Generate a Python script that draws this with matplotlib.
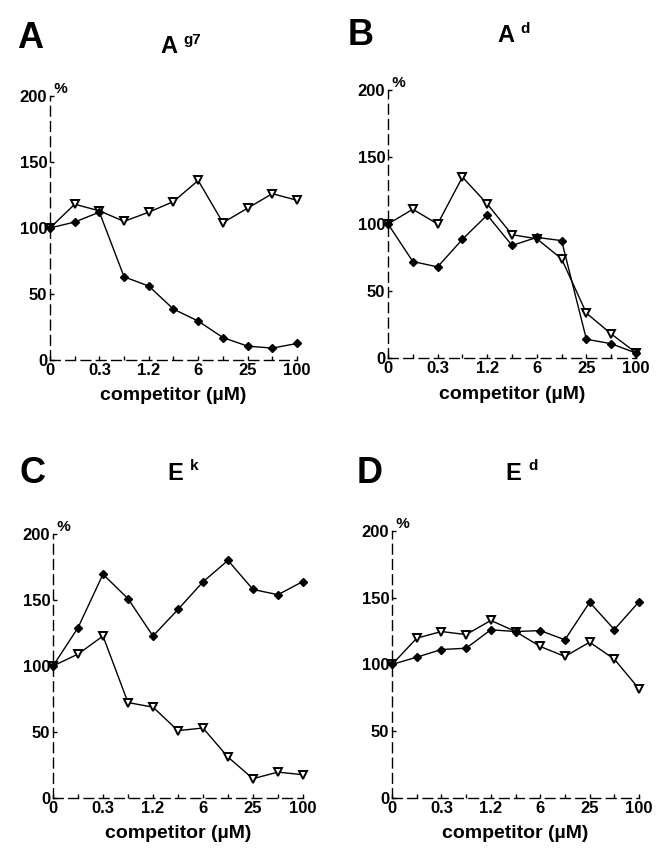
import matplotlib
matplotlib.use("Agg")
import matplotlib.pyplot as plt
import numpy as np

plt.rcParams['font.family'] = ['Liberation Sans', 'DejaVu Sans']
plt.rcParams['font.weight'] = 'bold'

x_pos = list(range(11))
tick_labels = ['0', '', '0.3', '', '1.2', '', '6', '', '25', '', '100']

# Panel A (A^g7)
A_tri = [100, 118, 113, 105, 112, 120, 136, 104, 115, 126, 121]
A_dia = [100, 104.5, 112, 63, 56, 38.5, 29.5, 17, 10.5, 9, 12.5]
# Panel B (A^d)
B_tri = [100, 111, 100, 135, 115, 92, 89, 74, 33.5, 18, 4]
B_dia = [100, 72, 68, 88.6, 106.7, 84, 90, 87.6, 14, 10.7, 3.7]
# Panel C (E^k)
C_dia = [100, 129, 169.5, 151, 122.7, 142.8, 163.7, 180, 158, 154, 164]
C_tri = [100, 109, 122.7, 72.3, 68.8, 51, 53, 31, 14.6, 19.6, 17.6]
# Panel D (E^d)
D_tri = [100, 119.7, 124.7, 122.4, 133, 124.7, 113.5, 106, 116.7, 104, 81.8]
D_dia = [100, 105.5, 111.2, 112.2, 126, 124.7, 125.4, 118.5, 146.6, 126.2, 147]

panels = [
    dict(letter='A', title=r'A', sup='g7', tri=A_tri, dia=A_dia,
         rect=[0.0762, 0.5755, 0.3765, 0.3113], lpos=(0.026, 0.955), tpos=(0.245, 0.945)),
    dict(letter='B', title=r'A', sup='d', tri=B_tri, dia=B_dia,
         rect=[0.5915, 0.5778, 0.378, 0.3161], lpos=(0.530, 0.958), tpos=(0.758, 0.958)),
    dict(letter='C', title=r'E', sup='k', tri=C_tri, dia=C_dia,
         rect=[0.0808, 0.059, 0.381, 0.3113], lpos=(0.030, 0.442), tpos=(0.255, 0.442)),
    dict(letter='D', title=r'E', sup='d', tri=D_tri, dia=D_dia,
         rect=[0.5976, 0.059, 0.3765, 0.3148], lpos=(0.543, 0.442), tpos=(0.770, 0.442)),
]

fig = plt.figure(figsize=(6.56, 8.48), dpi=100)

for p in panels:
    ax = fig.add_axes(p['rect'])
    ax.plot(x_pos, p['tri'], color='black', lw=1.0, marker='v', ms=6,
            mfc='white', mec='black', mew=1.4, clip_on=False, zorder=3)
    ax.plot(x_pos, p['dia'], color='black', lw=1.0, marker='D', ms=4,
            mfc='black', mec='black', clip_on=False, zorder=3)
    ax.set_xlim(0, 10)
    ax.set_ylim(0, 200)
    ax.set_xticks(x_pos)
    ax.set_xticklabels(tick_labels, fontsize=12, fontweight='bold')
    ax.set_yticks([0, 50, 100, 150, 200])
    ax.set_yticklabels(['0', '50', '100', '150', '200'], fontsize=12, fontweight='bold')
    ax.tick_params(axis='both', direction='in', length=3, width=1, pad=2)
    for s in ['top', 'right']:
        ax.spines[s].set_visible(False)
    for s in ['left', 'bottom']:
        ax.spines[s].set_linestyle((0, (7, 4)))
        ax.spines[s].set_linewidth(1.0)
    ax.set_xlabel('competitor (\u00b5M)', fontsize=14, fontweight='bold', labelpad=7)
    ax.text(0.0, 1.0, ' %', transform=ax.transAxes, fontsize=11, fontweight='bold',
            ha='left', va='bottom')
    fig.text(p['lpos'][0], p['lpos'][1], p['letter'], fontsize=26, fontweight='bold',
             ha='left', va='center')
    fig.text(p['tpos'][0], p['tpos'][1], p['title'], fontsize=17, fontweight='bold',
             ha='left', va='center')
    fig.text(p['tpos'][0] + 0.035, p['tpos'][1] + 0.008, p['sup'], fontsize=11,
             fontweight='bold', ha='left', va='center')

fig.savefig('out.png', dpi=100)
